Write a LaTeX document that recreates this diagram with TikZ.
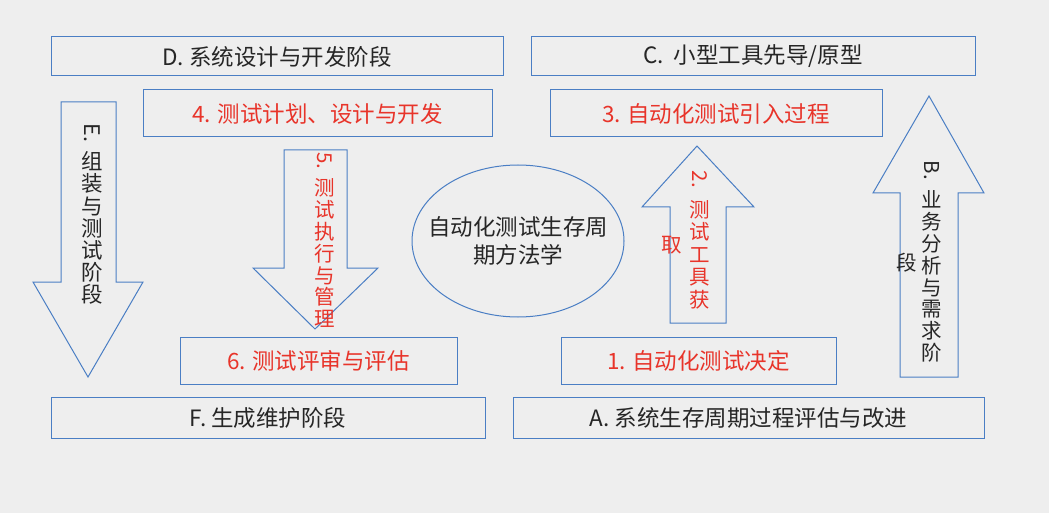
\documentclass[tikz,border=0pt]{standalone}
\usepackage{fontspec}
\setmainfont{Noto Sans CJK SC}
\usepackage{graphicx}
\definecolor{bg}{HTML}{EEEEEE}
\definecolor{boxblue}{HTML}{4A7EC4}
\definecolor{redtxt}{HTML}{E8342A}
\definecolor{blk}{HTML}{262626}
\newcommand{\vfs}[2]{\fontsize{#1}{#2}\selectfont\lineskiplimit=-100pt\lineskip=0pt}
\tikzset{
  box/.style={draw=boxblue, line width=1pt, inner sep=0pt, rectangle},
  blacktxt/.style={text=blk, font=\fontsize{22.5}{27}\selectfont},
  redt/.style={text=redtxt, font=\fontsize{22.5}{27}\selectfont},
  blockarrow/.style={draw=boxblue, line width=1pt, line join=miter},
  vcol/.style={align=center, inner sep=0pt},
}
\begin{document}
\begin{tikzpicture}[x=1pt,y=-1pt]
\useasboundingbox (0,0) rectangle (1049,513);
\fill[bg] (0,0) rectangle (1049,513);

% top boxes
\node[box, blacktxt, minimum width=452pt, minimum height=39pt] (D) at (277,56.5) {D. 系统设计与开发阶段};
\node[box, blacktxt, minimum width=444pt, minimum height=39pt] (C) at (753,56.5) {C.\ \ 小型工具先导/原型};
\node[box, redt, minimum width=349pt, minimum height=47pt] (S4) at (317.5,113.5) {4. 测试计划、设计与开发};
\node[box, redt, minimum width=332pt, minimum height=47pt] (S3) at (716,113.5) {3. 自动化测试引入过程};

% bottom boxes
\node[box, redt, minimum width=277pt, minimum height=47pt] (S6) at (318.5,360.5) {6. 测试评审与评估};
\node[box, redt, minimum width=275pt, minimum height=47pt] (S1) at (698.5,360.5) {1. 自动化测试决定};
\node[box, blacktxt, minimum width=434pt, minimum height=41pt] (F) at (268,417.5) {F. 生成维护阶段};
\node[box, blacktxt, minimum width=471pt, minimum height=41pt] (A) at (748.5,417.5) {A. 系统生存周期过程评估与改进};

% ellipse
\draw[draw=boxblue, line width=1pt] (518,241) ellipse [x radius=106, y radius=76];
\node[align=center, inner sep=0pt, text=blk, font=\vfs{22.5}{28}] (M) at (518,241) {自动化测试生存周\\期方法学};

% arrow E (down)
\draw[blockarrow] (61,102) -- (116,102) -- (116,282) -- (143,282) -- (88,377) -- (33,282) -- (61,282) -- cycle;
\node[vcol, text=blk, font=\vfs{21.5}{22.2}] (Et) at (92,214)
  {\rotatebox[origin=c]{-90}{E.}\\[7pt]组\\装\\与\\测\\试\\阶\\段};

% arrow 5 (down)
\draw[blockarrow] (284,150) -- (347,150) -- (347,268) -- (378,268) -- (315,329) -- (253,268) -- (284,268) -- cycle;
\node[vcol, text=redtxt, font=\vfs{20.5}{21.8}] (T5) at (325,240)
  {\rotatebox[origin=c]{-90}{5.}\\[6pt]测\\试\\执\\行\\与\\管\\理};

% arrow 2 (up)
\draw[blockarrow] (670,323) -- (670,207) -- (642,207) -- (697,146) -- (754,207) -- (726,207) -- (726,323) -- cycle;
\node[vcol, text=redtxt, font=\vfs{20.5}{22.5}] (T2) at (700,240)
  {\rotatebox[origin=c]{-90}{2.}\\[8pt]测\\试\\工\\具\\获};
\node[inner sep=0pt, text=redtxt, font=\vfs{20.5}{22.5}] (T2b) at (672,245) {取};

% arrow B (up)
\draw[blockarrow] (900,377) -- (900,193) -- (873,193) -- (929,96) -- (984,193) -- (958,193) -- (958,377) -- cycle;
\node[vcol, text=blk, font=\vfs{20.5}{21.9}] (TB) at (932,261.5)
  {\rotatebox[origin=c]{-90}{B.}\\[8pt]业\\务\\分\\析\\与\\需\\求\\阶};
\node[inner sep=0pt, text=blk, font=\vfs{20.5}{21.9}] (TBb) at (907,263) {段};
\end{tikzpicture}
\end{document}
